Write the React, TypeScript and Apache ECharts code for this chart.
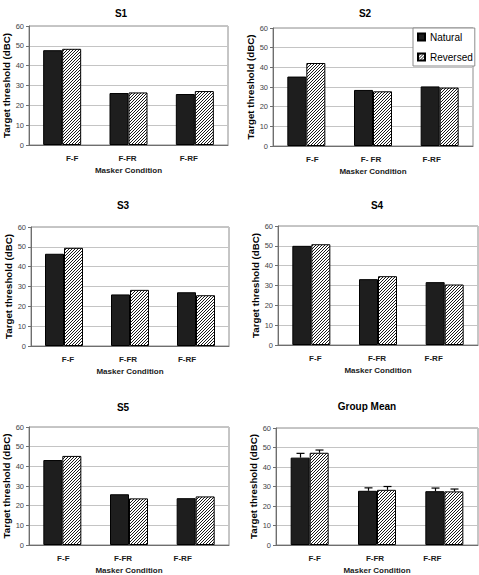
import React, { useEffect, useRef } from "react";
import * as echarts from "echarts";

// ---------- data ----------
const categories = ["F-F", "F-FR", "F-RF"];
const categoriesS2 = ["F-F", "F- FR", "F-RF"];
const panelTitles = ["S1", "S2", "S3", "S4", "S5", "Group Mean"];
const seriesNames = ["Natural", "Reversed"];
const yMin = 0;
const yMax = 60;
const yInterval = 10;
const yAxisTitle = "Target threshold (dBC)";
const xAxisTitle = "Masker Condition";

const s1Natural = [47.8, 26.2, 25.7];
const s1Reversed = [48.5, 26.5, 27.2];
const s2Natural = [35.3, 28.5, 30.3];
const s2Reversed = [42.2, 27.8, 29.7];
const s3Natural = [46.5, 26.0, 27.1];
const s3Reversed = [49.5, 28.3, 25.6];
const s4Natural = [50.0, 33.2, 31.7];
const s4Reversed = [50.8, 34.7, 30.5];
const s5Natural = [43.2, 25.8, 23.8];
const s5Reversed = [45.3, 23.7, 24.7];
const meanNatural = [44.8, 27.8, 27.6];
const meanReversed = [47.3, 28.3, 27.5];
const meanNaturalErr = [2.2, 1.5, 1.6];
const meanReversedErr = [1.4, 1.7, 1.2];

const panelCategories = [categories, categoriesS2, categories, categories, categories, categories];
const panelNatural = [s1Natural, s2Natural, s3Natural, s4Natural, s5Natural, meanNatural];
const panelReversed = [s1Reversed, s2Reversed, s3Reversed, s4Reversed, s5Reversed, meanReversed];

// ---------- layout ----------
const FONT = "'Liberation Sans', Arial, Helvetica, sans-serif";
const BAR_W = 19;
const LAYOUT = [
  { left: 28, top: 26, width: 200, height: 119, titleX: 121, titleY: 13, shift: [10, -1, -6] },
  { left: 273, top: 28, width: 200, height: 118, titleX: 365, titleY: 13, shift: [6, -2, -8] },
  { left: 31, top: 227, width: 198, height: 119, titleX: 123, titleY: 205, shift: [4, -2, -9] },
  { left: 278, top: 226, width: 200, height: 119, titleX: 377, titleY: 205, shift: [4, -1, -11] },
  { left: 29, top: 427, width: 200, height: 120, titleX: 123, titleY: 407, shift: [1, -6, -13] },
  { left: 276, top: 428, width: 202, height: 119, titleX: 367, titleY: 406, shift: [5, -2, -12] },
];

function makeHatch(): HTMLCanvasElement {
  const s = 3;
  const c = document.createElement("canvas");
  c.width = s;
  c.height = s;
  const ctx = c.getContext("2d")!;
  ctx.fillStyle = "#ffffff";
  ctx.fillRect(0, 0, s, s);
  ctx.strokeStyle = "#000000";
  ctx.lineWidth = 0.9;
  ctx.beginPath();
  ctx.moveTo(0, s);
  ctx.lineTo(s, 0);
  ctx.moveTo(-1, 1);
  ctx.lineTo(1, -1);
  ctx.moveTo(s - 1, s + 1);
  ctx.lineTo(s + 1, s - 1);
  ctx.stroke();
  return c;
}

function buildRich(shift: number[]) {
  const rich: Record<string, any> = {};
  shift.forEach((off, i) => {
    rich["c" + i] = {
      fontFamily: FONT,
      fontSize: 8,
      fontWeight: "bold",
      color: "#1a1a1a",
      padding: off >= 0 ? [0, 0, 0, 2 * off] : [0, -2 * off, 0, 0],
    };
  });
  return rich;
}

export default function App() {
  const ref = useRef<HTMLDivElement>(null);

  useEffect(() => {
    if (!ref.current) return;
    const chart = echarts.init(ref.current, undefined, { renderer: "svg" });
    const hatch = makeHatch();

    const grid = LAYOUT.map((g) => ({
      left: g.left,
      top: g.top,
      width: g.width,
      height: g.height,
      show: true,
      borderColor: "#8c8c8c",
      borderWidth: 1,
      backgroundColor: "transparent",
    }));

    const xAxis = LAYOUT.map((g, i) => ({
      type: "category",
      gridIndex: i,
      data: panelCategories[i],
      axisLine: { show: true, lineStyle: { color: "#6e6e6e", width: 1 } },
      axisTick: { show: false },
      axisLabel: {
        interval: 0,
        margin: 9,
        fontFamily: FONT,
        fontSize: 8,
        fontWeight: "bold",
        color: "#1a1a1a",
        formatter: (v: string, idx: number) => `{c${idx}|${v}}`,
        rich: buildRich(g.shift),
      },
      name: xAxisTitle,
      nameLocation: "middle",
      nameGap: 21,
      nameTextStyle: { fontFamily: FONT, fontSize: 8, fontWeight: "bold", color: "#1a1a1a" },
    }));

    const yAxis = LAYOUT.map((g, i) => ({
      type: "value",
      gridIndex: i,
      min: yMin,
      max: yMax,
      interval: yInterval,
      axisLine: { show: true, lineStyle: { color: "#6e6e6e", width: 1 } },
      axisTick: { show: true, length: 3, lineStyle: { color: "#6e6e6e" } },
      axisLabel: { margin: 5, fontFamily: FONT, fontSize: 7.5, color: "#444" },
      splitLine: { show: true, lineStyle: { color: "#c4c4c4", width: 1 } },
      name: yAxisTitle,
      nameLocation: "middle",
      nameGap: 18,
      nameTextStyle: { fontFamily: FONT, fontSize: 9.7, fontWeight: "bold", color: "#000" },
    }));

    const series: any[] = [];
    LAYOUT.forEach((g, i) => {
      series.push({
        type: "bar",
        name: seriesNames[0],
        xAxisIndex: i,
        yAxisIndex: i,
        data: panelNatural[i],
        barWidth: BAR_W,
        barGap: "0%",
        silent: true,
        itemStyle: { color: "#1e1e1e", borderColor: "#000", borderWidth: 1 },
      });
      series.push({
        type: "bar",
        name: seriesNames[1],
        xAxisIndex: i,
        yAxisIndex: i,
        data: panelReversed[i],
        barWidth: BAR_W,
        barGap: "0%",
        silent: true,
        itemStyle: { color: { image: hatch, repeat: "repeat" }, borderColor: "#000", borderWidth: 1 },
      });
    });

    const errData: number[][] = [];
    categories.forEach((_, c) => {
      errData.push([c, meanNatural[c], meanNaturalErr[c], -1]);
      errData.push([c, meanReversed[c], meanReversedErr[c], 1]);
    });
    series.push({
      type: "custom",
      xAxisIndex: 5,
      yAxisIndex: 5,
      silent: true,
      z: 5,
      data: errData,
      encode: { x: 0, y: 1 },
      renderItem: (params: any, api: any) => {
        const c = api.value(0);
        const v = api.value(1);
        const e = api.value(2);
        const side = api.value(3);
        const p0 = api.coord([c, v]);
        const p1 = api.coord([c, v + e]);
        const x = Math.round(p0[0] + (side * BAR_W) / 2) + 0.5;
        return {
          type: "group",
          children: [
            { type: "line", shape: { x1: x, y1: p0[1], x2: x, y2: p1[1] }, style: { stroke: "#000", lineWidth: 1.2 } },
            { type: "line", shape: { x1: x - 4, y1: p1[1], x2: x + 4, y2: p1[1] }, style: { stroke: "#000", lineWidth: 1.2 } },
          ],
        };
      },
    });

    const graphic = LAYOUT.map((g, i) => ({
      type: "text",
      x: g.titleX,
      y: g.titleY,
      silent: true,
      style: {
        text: panelTitles[i],
        fontFamily: FONT,
        fontSize: 10,
        fontWeight: "bold",
        fill: "#000",
        align: "center",
        verticalAlign: "middle",
        textAlign: "center",
        textVerticalAlign: "middle",
      },
    }));

    chart.setOption({
      animation: false,
      backgroundColor: "#ffffff",
      grid,
      xAxis,
      yAxis,
      series,
      graphic,
      legend: {
        data: seriesNames,
        orient: "vertical",
        left: 413,
        top: 28,
        backgroundColor: "#ffffff",
        borderColor: "#8c8c8c",
        borderWidth: 1,
        borderRadius: 0,
        padding: [4, 2, 4, 4],
        itemWidth: 7,
        itemHeight: 7,
        itemGap: 10,
        icon: "rect",
        selectedMode: false,
        textStyle: { fontFamily: FONT, fontSize: 10, color: "#000" },
      },
    });

    return () => chart.dispose();
  }, []);

  return (
    <div
      ref={ref}
      style={{ position: "absolute", left: 0, top: 0, width: 479, height: 575, background: "#fff" }}
    />
  );
}
